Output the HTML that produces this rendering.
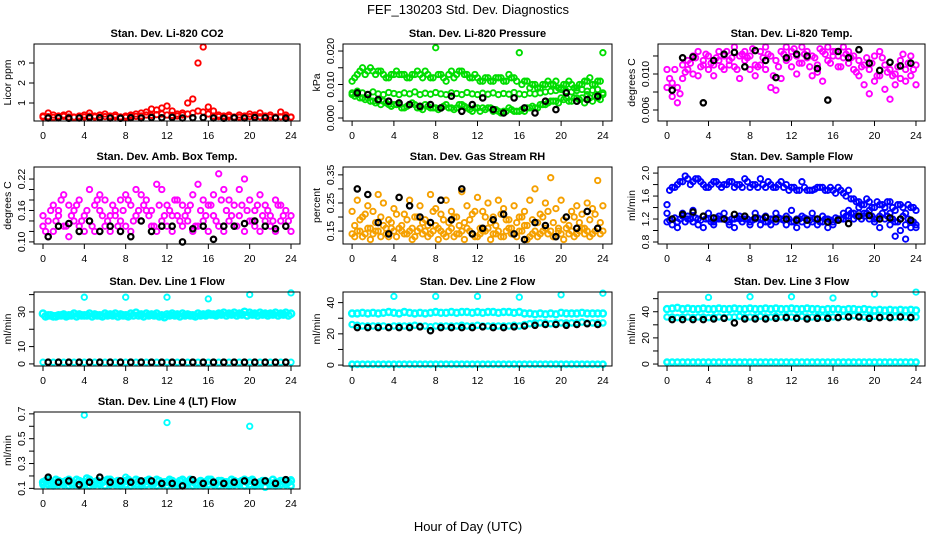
<!DOCTYPE html>
<html><head><meta charset="utf-8"><style>
body{margin:0;background:#fff;}
svg{display:block;font-family:"Liberation Sans",Arial,sans-serif;}
</style></head><body>
<svg id="chart" width="936" height="540" viewBox="0 0 936 540">
<text x="468" y="14" text-anchor="middle" font-size="13">FEF_130203  Std. Dev. Diagnostics</text>
<text x="468" y="531" text-anchor="middle" font-size="13">Hour of Day (UTC)</text>
</svg>
<script>
const xTicks = [0,4,8,12,16,20,24];
const hoursBlack = [0.5,1.5,2.5,3.5,4.5,5.5,6.5,7.5,8.5,9.5,10.5,11.5,12.5,13.5,14.5,15.5,16.5,17.5,18.5,19.5,20.5,21.5,22.5,23.5];
const hoursHalf = [0,0.5,1,1.5,2,2.5,3,3.5,4,4.5,5,5.5,6,6.5,7,7.5,8,8.5,9,9.5,10,10.5,11,11.5,12,12.5,13,13.5,14,14.5,15,15.5,16,16.5,17,17.5,18,18.5,19,19.5,20,20.5,21,21.5,22,22.5,23,23.5,24];
const hoursOff = [0.25,0.75,1.25,1.75,2.25,2.75,3.25,3.75,4.25,4.75,5.25,5.75,6.25,6.75,7.25,7.75,8.25,8.75,9.25,9.75,10.25,10.75,11.25,11.75,12.25,12.75,13.25,13.75,14.25,14.75,15.25,15.75,16.25,16.75,17.25,17.75,18.25,18.75,19.25,19.75,20.25,20.75,21.25,21.75,22.25,22.75,23.25,23.75];
const spikeHours = [4,8,12,16,20,24];

const co2Red = [0.35,0.5,0.4,0.35,0.4,0.45,0.3,0.35,0.4,0.5,0.35,0.4,0.45,0.35,0.4,0.3,0.35,0.4,0.45,0.5,0.55,0.7,0.65,0.75,0.85,0.6,0.45,0.5,1.0,1.2,3.0,3.8,0.8,0.6,0.4,0.35,0.4,0.3,0.4,0.35,0.45,0.4,0.5,0.35,0.4,0.3,0.55,0.4,0.3];
const co2Red2 = [0.3,0.32,0.28,0.3,0.33,0.3,0.28,0.31,0.3,0.34,0.3,0.29,0.32,0.3,0.31,0.3,0.28,0.32,0.33,0.35,0.4,0.38,0.42,0.45,0.4,0.38,0.35,0.4,0.45,0.5,0.6,0.55,0.45,0.35,0.32,0.3,0.31,0.3,0.29,0.3,0.32,0.3,0.31,0.3,0.3,0.29,0.31,0.3,0.29];
const co2Black = [0.25,0.26,0.24,0.25,0.27,0.26,0.25,0.24,0.26,0.25,0.27,0.26,0.28,0.25,0.26,0.27,0.25,0.24,0.26,0.25,0.27,0.26,0.25,0.24];

const presUpper = [0.011,0.013,0.015,0.014,0.014,0.014,0.013,0.012,0.013,0.013,0.013,0.012,0.013,0.013,0.014,0.012,0.021,0.013,0.011,0.014,0.013,0.014,0.013,0.012,0.012,0.011,0.012,0.011,0.012,0.011,0.013,0.012,0.0195,0.011,0.009,0.010,0.009,0.010,0.010,0.011,0.009,0.010,0.010,0.009,0.010,0.011,0.010,0.011,0.0195];
const presUpper2 = [0.012,0.014,0.013,0.015,0.013,0.014,0.012,0.013,0.014,0.013,0.012,0.013,0.014,0.012,0.013,0.012,0.013,0.012,0.013,0.012,0.014,0.013,0.012,0.013,0.011,0.012,0.011,0.012,0.012,0.011,0.012,0.011,0.010,0.011,0.010,0.009,0.010,0.011,0.010,0.009,0.010,0.011,0.009,0.010,0.011,0.012,0.010,0.011];
const presMid = [0.0075,0.008,0.0075,0.007,0.0078,0.0072,0.007,0.0076,0.0073,0.007,0.0075,0.0072,0.0078,0.007,0.0074,0.0071,0.0076,0.0072,0.007,0.0075,0.0073,0.007,0.0076,0.0072,0.007,0.0074,0.0071,0.0075,0.007,0.0073,0.0071,0.0076,0.0072,0.007,0.0074,0.0072,0.0075,0.0078,0.008,0.0082,0.0085,0.008,0.0078,0.0082,0.0085,0.008,0.0083,0.0085,0.0075];
const presLower = [0.007,0.007,0.006,0.006,0.005,0.005,0.005,0.004,0.004,0.004,0.003,0.004,0.004,0.003,0.004,0.003,0.003,0.003,0.004,0.003,0.003,0.004,0.003,0.002,0.003,0.003,0.003,0.002,0.002,0.002,0.003,0.002,0.002,0.002,0.003,0.003,0.004,0.004,0.005,0.005,0.006,0.006,0.005,0.006,0.006,0.007,0.005,0.006,0.007];
const presLower2 = [0.0065,0.006,0.0055,0.005,0.0045,0.004,0.0045,0.0035,0.004,0.003,0.0035,0.0045,0.003,0.0025,0.0035,0.003,0.0025,0.0035,0.003,0.0025,0.004,0.0035,0.0025,0.003,0.002,0.0025,0.003,0.0025,0.0015,0.002,0.0025,0.002,0.0025,0.003,0.0035,0.003,0.004,0.0045,0.005,0.0045,0.0055,0.005,0.006,0.0055,0.0045,0.006,0.0065,0.0055];
const presBlack = [0.0075,0.007,0.0055,0.005,0.0045,0.004,0.0035,0.004,0.003,0.0065,0.002,0.004,0.006,0.0025,0.0015,0.006,0.003,0.0015,0.005,0.0025,0.0075,0.005,0.0055,0.0065];

const tempA = [0.0105,0.009,0.0085,0.011,0.0115,0.012,0.0125,0.0115,0.012,0.011,0.0125,0.012,0.0115,0.013,0.012,0.0125,0.012,0.011,0.0125,0.013,0.012,0.0115,0.0125,0.013,0.0125,0.012,0.013,0.0125,0.012,0.011,0.0125,0.013,0.0125,0.012,0.013,0.0125,0.012,0.0115,0.011,0.0105,0.012,0.0125,0.011,0.0105,0.01,0.0115,0.0105,0.012,0.011];
const tempB = [0.0085,0.0075,0.0068,0.0095,0.0105,0.01,0.0098,0.011,0.0105,0.0098,0.0115,0.0105,0.011,0.0108,0.0095,0.0115,0.0105,0.0098,0.011,0.0105,0.0085,0.0082,0.0095,0.0115,0.0108,0.01,0.0112,0.0118,0.0098,0.0102,0.0092,0.0115,0.012,0.0108,0.0118,0.0112,0.0105,0.0098,0.0088,0.0078,0.0092,0.0098,0.0083,0.0072,0.0088,0.0095,0.0092,0.0098,0.0088];
const tempC = [0.0095,0.0105,0.0078,0.0102,0.0112,0.0118,0.0108,0.0122,0.0112,0.0118,0.0108,0.0125,0.0118,0.0105,0.0122,0.0118,0.0128,0.0108,0.0118,0.0122,0.0098,0.0108,0.0122,0.0118,0.0128,0.0112,0.0122,0.0108,0.0118,0.0128,0.0122,0.0112,0.0125,0.0108,0.0122,0.0118,0.0102,0.0108,0.0118,0.0112,0.0098,0.0118,0.0102,0.0098,0.0108,0.0122,0.0112,0.0105];
const tempBlack = [0.0082,0.0118,0.0119,0.0068,0.0115,0.0122,0.0124,0.0108,0.0126,0.0115,0.0096,0.0118,0.0122,0.0120,0.0106,0.0071,0.0125,0.0118,0.0127,0.0112,0.0104,0.0113,0.0109,0.0112];

const ambA = [0.15,0.14,0.17,0.16,0.19,0.17,0.16,0.18,0.15,0.2,0.17,0.19,0.18,0.15,0.16,0.18,0.19,0.17,0.2,0.19,0.18,0.16,0.21,0.2,0.17,0.15,0.18,0.17,0.16,0.19,0.21,0.18,0.17,0.19,0.23,0.2,0.18,0.17,0.2,0.22,0.18,0.16,0.19,0.17,0.15,0.18,0.17,0.16,0.15];
const ambB = [0.13,0.11,0.12,0.15,0.13,0.11,0.14,0.13,0.12,0.14,0.12,0.16,0.13,0.12,0.15,0.14,0.13,0.12,0.15,0.14,0.16,0.13,0.12,0.14,0.13,0.12,0.15,0.13,0.14,0.12,0.13,0.14,0.12,0.15,0.13,0.12,0.14,0.13,0.15,0.12,0.14,0.13,0.12,0.14,0.13,0.12,0.14,0.13,0.12];
const ambC = [0.12,0.16,0.14,0.18,0.13,0.15,0.17,0.14,0.16,0.13,0.18,0.15,0.14,0.17,0.13,0.16,0.18,0.14,0.16,0.17,0.15,0.13,0.17,0.15,0.16,0.18,0.14,0.15,0.17,0.13,0.16,0.15,0.17,0.14,0.18,0.16,0.15,0.13,0.17,0.16,0.14,0.17,0.15,0.16,0.14,0.17,0.15,0.14];
const ambBlack = [0.11,0.13,0.135,0.12,0.14,0.12,0.13,0.12,0.11,0.14,0.12,0.13,0.13,0.1,0.125,0.13,0.105,0.13,0.13,0.135,0.14,0.13,0.125,0.13];

const rhLow = [0.14,0.15,0.13,0.16,0.14,0.15,0.17,0.13,0.15,0.16,0.14,0.15,0.13,0.16,0.15,0.14,0.17,0.15,0.13,0.16,0.14,0.15,0.16,0.14,0.13,0.15,0.16,0.14,0.15,0.13,0.16,0.14,0.15,0.17,0.13,0.15,0.14,0.16,0.15,0.13,0.14,0.16,0.15,0.14,0.16,0.15,0.14,0.16,0.15];
const rhLow2 = [0.13,0.15,0.14,0.12,0.15,0.13,0.14,0.16,0.13,0.15,0.14,0.12,0.15,0.14,0.13,0.15,0.12,0.14,0.15,0.13,0.14,0.12,0.15,0.13,0.14,0.15,0.12,0.14,0.13,0.15,0.14,0.13,0.15,0.12,0.14,0.13,0.15,0.14,0.13,0.15,0.12,0.14,0.13,0.15,0.14,0.13,0.15,0.14];
const rhMid = [0.17,0.19,0.21,0.16,0.18,0.2,0.16,0.18,0.21,0.17,0.19,0.16,0.2,0.18,0.17,0.22,0.16,0.19,0.18,0.2,0.17,0.18,0.19,0.22,0.16,0.2,0.18,0.17,0.21,0.19,0.16,0.18,0.2,0.17,0.19,0.18,0.2,0.22,0.18,0.16,0.19,0.17,0.2,0.18,0.16,0.19,0.21,0.18];
const rhHigh = [0.22,0.26,0.2,0.24,0.22,0.28,0.25,0.19,0.23,0.27,0.21,0.26,0.2,0.24,0.19,0.28,0.23,0.21,0.26,0.22,0.2,0.29,0.24,0.21,0.27,0.22,0.25,0.2,0.26,0.23,0.19,0.24,0.2,0.22,0.26,0.3,0.21,0.25,0.34,0.23,0.26,0.2,0.22,0.24,0.21,0.25,0.23,0.33,0.24];
const rhBlack = [0.3,0.28,0.18,0.14,0.27,0.24,0.2,0.18,0.26,0.19,0.3,0.14,0.16,0.19,0.21,0.14,0.12,0.18,0.17,0.13,0.2,0.16,0.22,0.16];

const flowUpper = [1.45,1.75,1.8,1.85,1.9,1.85,1.9,1.8,1.75,1.85,1.8,1.8,1.85,1.75,1.8,1.9,1.75,1.8,1.9,1.75,1.8,1.75,1.85,1.8,1.75,1.7,1.85,1.7,1.7,1.75,1.75,1.7,1.7,1.75,1.65,1.7,1.55,1.5,1.45,1.5,1.4,1.45,1.4,1.5,1.35,1.45,1.3,1.4,1.35];
const flowUpper2 = [1.7,1.75,1.85,1.95,1.8,1.9,1.85,1.75,1.8,1.85,1.75,1.8,1.85,1.8,1.75,1.85,1.8,1.75,1.8,1.85,1.75,1.8,1.75,1.7,1.75,1.7,1.75,1.7,1.72,1.75,1.7,1.75,1.65,1.7,1.6,1.55,1.5,1.45,1.55,1.4,1.5,1.45,1.5,1.4,1.45,1.4,1.45,1.4];
const flowLower = [1.15,1.2,1.15,1.25,1.2,1.15,1.2,1.25,1.2,1.15,1.2,1.2,1.15,1.2,1.25,1.2,1.15,1.2,1.2,1.15,1.2,1.15,1.2,1.25,1.15,1.2,1.15,1.2,1.15,1.2,1.15,1.2,1.15,1.2,1.2,1.25,1.2,1.3,1.25,1.2,1.15,1.25,1.2,1.1,1.15,1.2,1.1,1.15,1.1];
const flowLower2 = [1.18,1.22,1.2,1.15,1.2,1.22,1.18,1.2,1.15,1.22,1.2,1.18,1.2,1.22,1.15,1.2,1.18,1.22,1.2,1.15,1.2,1.22,1.18,1.2,1.15,1.2,1.22,1.18,1.2,1.15,1.2,1.18,1.22,1.2,1.25,1.3,1.25,1.2,1.3,1.25,1.2,1.3,1.25,1.2,1.15,1.25,1.2,1.15];
const flowSpread = [1.3,1.1,1.05,1.3,1.25,1.35,1.1,1.05,1.3,1.1,1.25,1.3,1.1,1.05,1.2,1.25,1.1,1.3,1.1,1.25,1.1,1.3,1.2,1.1,1.35,1.05,1.25,1.1,1.3,1.1,1.25,1.05,1.1,1.2,1.3,1.35,1.3,1.4,1.3,1.35,1.2,1.05,1.4,1.3,0.9,1.0,0.85,1.05,1.05];
const flowBlack = [1.2,1.28,1.32,1.25,1.22,1.2,1.28,1.25,1.22,1.23,1.2,1.2,1.18,1.18,1.2,1.15,1.18,1.12,1.25,1.26,1.2,1.22,1.2,1.18];

const l1Band = [29,28,27.5,28,28.5,28,29,28.5,28,29,28.5,28,29,28.5,29,28.5,28,29,29.5,28.5,29,28.5,29,28,28.5,29,28.5,29,28.5,28,29,28.5,29,28.5,29,29.5,29,29.5,29,30,29.5,29,29.5,29,29,29.5,29,29.5,29];
const l1Band2 = [27.5,28,27.5,28,27.5,28,27.5,28,28,27.5,28,27.5,28,28,27.5,28,27.5,28,28,27.5,28,28,27.5,27,28,28,27.5,28,28,27.5,28,28,28.5,28,28.5,28,28.5,28,28.5,28,28.5,28,28.5,28,28.5,28,28.5,28];
const l1Zero = [1,1,1,1,1,1,1,1,1,1,1,1,1,1,1,1,1,1,1,1,1,1,1,1,1,1,1,1,1,1,1,1,1,1,1,1,1,1,1,1,1,1,1,1,1,1,1,1,1];
const l1Spikes = [38.5,38.5,38.5,37.5,40,41];
const l1Black = [1,1,1,1,1,1,1,1,1,1,1,1,1,1,1,1,1,1,1,1,1,1,1,1];

const l2Band = [33,33,33.5,33,33.5,33,33.5,34,33.5,33,34,33.5,33,33.5,33,33.5,34,33.5,33.5,34,33.5,34,34,33.5,34,33.5,34,34,33.5,34,34,33.5,34,33,33,32.5,33,32.5,33,32.5,33.5,33,33,33,33.5,33,33,33,33];
const l2Mid = [26,25.5,25,25,25,25,25,24.5,25,25,25,25,25.5,25,25,24.5,25,25,25,25,25,25.5,25,25,25.5,25,25,25,25,25,25,25.5,25,26,26.5,27,27,27,26.5,27,27,27,27,27,27.5,27,27,27,27];
const l2Zero = [0.5,0.5,0.5,0.5,0.5,0.5,0.5,0.5,0.5,0.5,0.5,0.5,0.5,0.5,0.5,0.5,0.5,0.5,0.5,0.5,0.5,0.5,0.5,0.5,0.5,0.5,0.5,0.5,0.5,0.5,0.5,0.5,0.5,0.5,0.5,0.5,0.5,0.5,0.5,0.5,0.5,0.5,0.5,0.5,0.5,0.5,0.5,0.5,0.5];
const l2Spikes = [44,44,44,43.5,45,46];
const l2Black = [24,24,24,24,24,24,24.5,22,24,24,24,24,24.5,24,24,24.5,25,25.5,26,26,25.5,26,26.5,26];

const l3Band = [42,42.5,43,42,42.5,42,42,42.5,42,42,42.5,42,42,42.5,42,42,42.5,42,42,42.5,42,42.5,42,42,42.5,42,42,42.5,42,42,41.5,42,42,42,41.5,42,42,41.5,42,41.5,41,41.5,41,41.5,41,41.5,41,41.5,41];
const l3Mid = [36,36,35.5,36,36,35.5,36,36,35.5,36,36,35.5,36,36,36.5,36,36,36,36.5,36,36,36.5,36,36.5,36,36,36.5,36,36,36.5,36,36.5,36,36,36.5,36.5,37,36.5,36,36.5,36.5,36,36.5,36,36,36.5,36,36,36];
const l3Zero = [1.5,1.5,1.5,1.5,1.5,1.5,1.5,1.5,1.5,1.5,1.5,1.5,1.5,1.5,1.5,1.5,1.5,1.5,1.5,1.5,1.5,1.5,1.5,1.5,1.5,1.5,1.5,1.5,1.5,1.5,1.5,1.5,1.5,1.5,1.5,1.5,1.5,1.5,1.5,1.5,1.5,1.5,1.5,1.5,1.5,1.5,1.5,1.5,1.5];
const l3Spikes = [51,51.5,51.5,50.5,53.5,55];
const l3Black = [34,34,34,34,34.5,35,31.5,34.5,34.5,34.5,35,35.5,35,34.5,35,35,35.5,36,36,35,35.5,35.5,36,35.5];

const l4Band = [0.15,0.17,0.14,0.16,0.15,0.17,0.14,0.16,0.15,0.17,0.15,0.14,0.16,0.17,0.15,0.14,0.16,0.15,0.17,0.14,0.16,0.15,0.17,0.14,0.15,0.16,0.14,0.17,0.15,0.16,0.14,0.15,0.17,0.14,0.16,0.15,0.14,0.16,0.15,0.17,0.16,0.14,0.15,0.16,0.14,0.15,0.16,0.15,0.16];
const l4Low = [0.13,0.13,0.12,0.13,0.13,0.12,0.13,0.12,0.13,0.12,0.13,0.13,0.12,0.13,0.13,0.12,0.13,0.12,0.13,0.12,0.13,0.13,0.12,0.13,0.12,0.13,0.12,0.13,0.13,0.12,0.13,0.12,0.13,0.13,0.12,0.13,0.12,0.13,0.13,0.12,0.13,0.12,0.13,0.11,0.13,0.12,0.13,0.13,0.12];
const l4Off = [0.16,0.14,0.17,0.15,0.16,0.14,0.17,0.15,0.18,0.14,0.16,0.15,0.17,0.14,0.16,0.15,0.17,0.14,0.16,0.15,0.17,0.14,0.16,0.15,0.17,0.14,0.16,0.15,0.17,0.14,0.16,0.15,0.17,0.14,0.16,0.15,0.17,0.14,0.16,0.15,0.17,0.14,0.16,0.15,0.17,0.14,0.16,0.15];
const l4Spikes = [0.69,0.19,0.63,0.16,0.6,0.17];
const l4Black = [0.19,0.15,0.16,0.13,0.15,0.19,0.15,0.16,0.15,0.16,0.16,0.14,0.14,0.12,0.17,0.14,0.15,0.14,0.15,0.16,0.15,0.16,0.14,0.17];

const colLeft = [34,343,658], colRight = [300,612,925];
const rowTop = [44,167,292,412], rowBottom = [121,244,366,489];

const svg = document.getElementById('chart');
const NS = 'http://www.w3.org/2000/svg';
function mk(tag, attrs, parent){
  const e = document.createElementNS(NS, tag);
  for (const k in attrs) e.setAttribute(k, attrs[k]);
  (parent||svg).appendChild(e);
  return e;
}

function panel(p){
  const L = colLeft[p.col], R = colRight[p.col], T = rowTop[p.row], B = rowBottom[p.row];
  const g = mk('g', {});
  
  
  const xs = h => L + (h + 0.87) / 25.74 * (R - L);
  const ys = v => T + (p.ymax - v) / (p.ymax - p.ymin) * (B - T);
  const t = mk('text', {x:(L+R)/2, y:T-7, 'text-anchor':'middle', 'font-size':11, 'font-weight':'bold'}, g);
  t.textContent = p.title;
  
  
  p.series.forEach(s => {
    const sg = mk('g', {fill:'none', stroke:s.color, 'stroke-width':s.sw||1.9}, g);
    
    
    s.vals.forEach((v, i) => {
      const c = mk('circle', {cx:xs(s.hours[i]).toFixed(1), cy:ys(v).toFixed(1), r:s.r||2.7}, sg);
      
      
    });
  });
  const box = mk('rect', {x:L, y:T, width:R-L, height:B-T, fill:'none', stroke:'#000', 'stroke-width':1}, g);
  
  
  const xa = mk('g', {}, g);
  
  
  mk('line', {x1:xs(0), x2:xs(24), y1:B, y2:B, stroke:'#000'}, xa);
  xTicks.forEach(h => {
    mk('line', {x1:xs(h), x2:xs(h), y1:B, y2:B+5, stroke:'#000'}, xa);
    const tl = mk('text', {x:xs(h), y:B+18, 'text-anchor':'middle', 'font-size':10.5}, xa);
    tl.textContent = h;
    
    
  });
  const ya = mk('g', {}, g);
  
  
  mk('line', {x1:L, x2:L, y1:ys(p.ticks[0]), y2:ys(p.ticks[p.ticks.length-1]), stroke:'#000'}, ya);
  p.ticks.forEach((v, i) => {
    const y = ys(v);
    mk('line', {x1:L-5, x2:L, y1:y, y2:y, stroke:'#000'}, ya);
    if (p.labels[i]) {
      const tl = mk('text', {x:L-9, y:y, 'text-anchor':'middle', 'font-size':10.5, transform:`rotate(-90 ${L-9} ${y})`}, ya);
      tl.textContent = p.labels[i];
      
      
    }
  });
  const yl = mk('text', {x:L-23, y:(T+B)/2, 'text-anchor':'middle', 'font-size':10.5, transform:`rotate(-90 ${L-23} ${(T+B)/2})`}, g);
  yl.textContent = p.ylab;
  
  
}

const RED='#ff0000', GRN='#00dd00', MAG='#ff00ff', ORG='#f5a000', BLU='#0000ff', CYN='#00ffff', BLK='#000000';
panel({name:'panel-co2', col:0,row:0,title:'Stan. Dev. Li-820 CO2',ylab:'Licor ppm',ymin:0.1,ymax:3.95,ticks:[1,2,3],labels:['1','2','3'],
  series:[{name:'co2-red-2',hours:hoursHalf,vals:co2Red2,color:RED},{name:'co2-red',hours:hoursHalf,vals:co2Red,color:RED},{name:'co2-black',hours:hoursBlack,vals:co2Black,color:BLK,sw:2.2}]});
panel({name:'panel-pressure', col:1,row:0,title:'Stan. Dev. Li-820 Pressure',ylab:'kPa',ymin:-0.0009,ymax:0.0221,ticks:[0,0.005,0.01,0.015,0.02],labels:['0.000','','0.010','','0.020'],
  series:[{name:'pressure-upper',hours:hoursHalf,vals:presUpper,color:GRN},{name:'pressure-upper-2',hours:hoursOff,vals:presUpper2,color:GRN},{name:'pressure-mid',hours:hoursHalf,vals:presMid,color:GRN},{name:'pressure-lower',hours:hoursHalf,vals:presLower,color:GRN},{name:'pressure-lower-2',hours:hoursOff,vals:presLower2,color:GRN},{name:'pressure-black',hours:hoursBlack,vals:presBlack,color:BLK,sw:2.2}]});
panel({name:'panel-temp', col:2,row:0,title:'Stan. Dev. Li-820 Temp.',ylab:'degrees C',ymin:0.00478,ymax:0.01333,ticks:[0.006,0.008,0.010,0.012],labels:['0.006','','0.010',''],
  series:[{name:'temp-a',hours:hoursHalf,vals:tempA,color:MAG},{name:'temp-b',hours:hoursHalf,vals:tempB,color:MAG},{name:'temp-c',hours:hoursOff,vals:tempC,color:MAG},{name:'temp-black',hours:hoursBlack,vals:tempBlack,color:BLK,sw:2.2}]});
panel({name:'panel-amb-temp', col:0,row:1,title:'Stan. Dev. Amb. Box Temp.',ylab:'degrees C',ymin:0.096,ymax:0.243,ticks:[0.10,0.12,0.14,0.16,0.18,0.20,0.22],labels:['0.10','','','0.16','','','0.22'],
  series:[{name:'amb-a',hours:hoursHalf,vals:ambA,color:MAG},{name:'amb-b',hours:hoursHalf,vals:ambB,color:MAG},{name:'amb-c',hours:hoursOff,vals:ambC,color:MAG},{name:'amb-black',hours:hoursBlack,vals:ambBlack,color:BLK,sw:2.2}]});
panel({name:'panel-rh', col:1,row:1,title:'Stan. Dev. Gas Stream RH',ylab:'percent',ymin:0.104,ymax:0.378,ticks:[0.15,0.2,0.25,0.3,0.35],labels:['0.15','','0.25','','0.35'],
  series:[{name:'rh-high',hours:hoursHalf,vals:rhHigh,color:ORG},{name:'rh-mid',hours:hoursOff,vals:rhMid,color:ORG},{name:'rh-low',hours:hoursHalf,vals:rhLow,color:ORG},{name:'rh-low-2',hours:hoursOff,vals:rhLow2,color:ORG},{name:'rh-black',hours:hoursBlack,vals:rhBlack,color:BLK,sw:2.2}]});
panel({name:'panel-sample-flow', col:2,row:1,title:'Stan. Dev. Sample Flow',ylab:'ml/min',ymin:0.765,ymax:2.106,ticks:[0.8,1.0,1.2,1.4,1.6,1.8,2.0],labels:['0.8','','1.2','','1.6','','2.0'],
  series:[{name:'flow-upper',hours:hoursHalf,vals:flowUpper,color:BLU},{name:'flow-upper-2',hours:hoursOff,vals:flowUpper2,color:BLU},{name:'flow-spread',hours:hoursHalf,vals:flowSpread,color:BLU},{name:'flow-lower',hours:hoursHalf,vals:flowLower,color:BLU},{name:'flow-lower-2',hours:hoursOff,vals:flowLower2,color:BLU},{name:'flow-black',hours:hoursBlack,vals:flowBlack,color:BLK,sw:2.2}]});
panel({name:'panel-line1', col:0,row:2,title:'Stan. Dev. Line 1 Flow',ylab:'ml/min',ymin:-1.2,ymax:41.5,ticks:[0,10,20,30,40],labels:['0','10','','30',''],
  series:[{name:'line1-band',hours:hoursHalf,vals:l1Band,color:CYN,r:3.2,sw:2.4},{name:'line1-band-2',hours:hoursOff,vals:l1Band2,color:CYN,r:3.2,sw:2.4},{name:'line1-zero',hours:hoursHalf,vals:l1Zero,color:CYN},{name:'line1-spikes',hours:spikeHours,vals:l1Spikes,color:CYN},{name:'line1-black',hours:hoursBlack,vals:l1Black,color:BLK,sw:2.2}]});
panel({name:'panel-line2', col:1,row:2,title:'Stan. Dev. Line 2 Flow',ylab:'ml/min',ymin:-0.6,ymax:46.8,ticks:[0,10,20,30,40],labels:['0','','20','','40'],
  series:[{name:'line2-band',hours:hoursHalf,vals:l2Band,color:CYN,r:3,sw:2.4},{name:'line2-mid',hours:hoursHalf,vals:l2Mid,color:CYN,sw:2.2},{name:'line2-zero',hours:hoursHalf,vals:l2Zero,color:CYN,sw:2.4},{name:'line2-spikes',hours:spikeHours,vals:l2Spikes,color:CYN},{name:'line2-black',hours:hoursBlack,vals:l2Black,color:BLK,sw:2.2}]});
panel({name:'panel-line3', col:2,row:2,title:'Stan. Dev. Line 3 Flow',ylab:'ml/min',ymin:-1.5,ymax:55.1,ticks:[0,10,20,30,40,50],labels:['0','','20','','40',''],
  series:[{name:'line3-band',hours:hoursHalf,vals:l3Band,color:CYN,r:3,sw:2.4},{name:'line3-mid',hours:hoursHalf,vals:l3Mid,color:CYN,sw:2.2},{name:'line3-zero',hours:hoursHalf,vals:l3Zero,color:CYN,sw:2.4},{name:'line3-spikes',hours:spikeHours,vals:l3Spikes,color:CYN},{name:'line3-black',hours:hoursBlack,vals:l3Black,color:BLK,sw:2.2}]});
panel({name:'panel-line4', col:0,row:3,title:'Stan. Dev. Line 4 (LT) Flow',ylab:'ml/min',ymin:0.095,ymax:0.715,ticks:[0.1,0.2,0.3,0.4,0.5,0.6,0.7],labels:['0.1','','0.3','','0.5','','0.7'],
  series:[{name:'line4-band',hours:hoursHalf,vals:l4Band,color:CYN,r:3,sw:2.4},{name:'line4-off',hours:hoursOff,vals:l4Off,color:CYN,r:3,sw:2.4},{name:'line4-low',hours:hoursHalf,vals:l4Low,color:CYN,sw:2.4},{name:'line4-spikes',hours:spikeHours,vals:l4Spikes,color:CYN},{name:'line4-black',hours:hoursBlack,vals:l4Black,color:BLK,sw:2.2}]});
</script>
</body></html>
